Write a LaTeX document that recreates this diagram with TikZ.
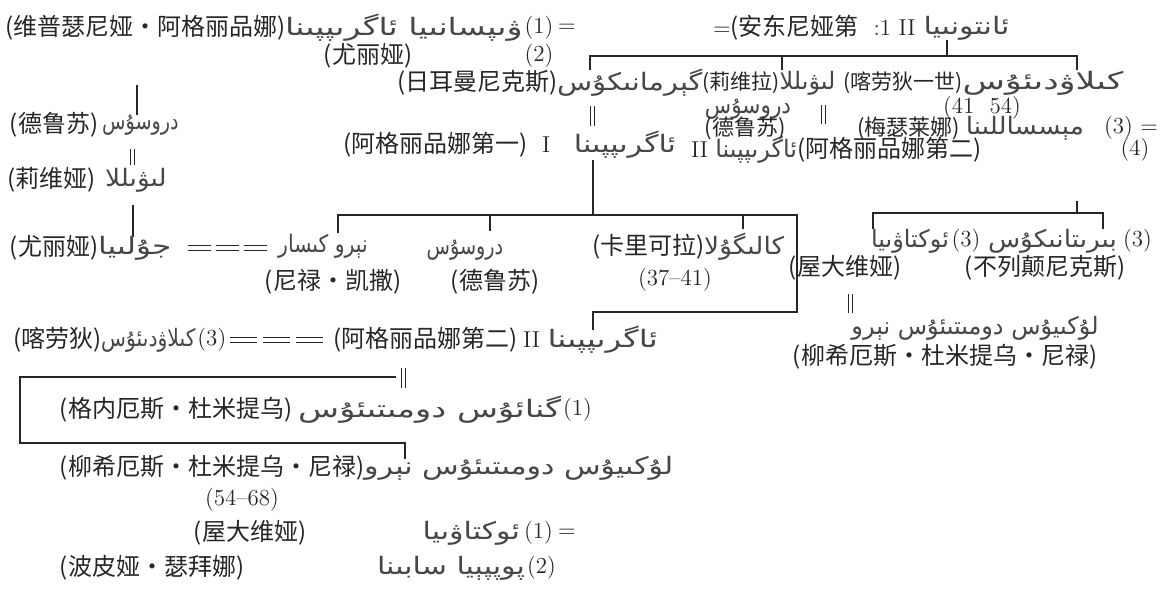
\documentclass[tikz,border=0pt]{standalone}
\usepackage{fontspec}
\usepackage{graphicx}
\newfontfamily\cjkf{Noto Sans CJK SC}
\newfontfamily\ugf[Script=Arabic]{DejaVu Sans}
\TeXXeTstate=1
\newcommand\Zh[2][12]{{\cjkf\fontsize{#1}{14}\selectfont #2}}
\newcommand\Uy[2][1.25]{{\ugf\fontsize{12}{14}\selectfont\color{black!72}\scalebox{#1}[1]{\beginR #2\endR}}}
\begin{document}
\begin{tikzpicture}[x=0.5pt,y=-0.5pt,
  every node/.style={inner sep=0pt,outer sep=0pt,font=\fontsize{11.5}{13}\selectfont,text=black!85},
  ln/.style={line width=0.8pt,black!85},
  thin2/.style={line width=0.5pt,black!85}]
\useasboundingbox[fill=white] (0,0) rectangle (1169,592);
% marriage sign (two short vertical strokes) and a double dash, from a named coordinate
\newcommand\marr[2]{\draw[thin2] ([xshift=-1pt]#1) -- ++(0,#2); \draw[thin2] ([xshift=1pt]#1) -- ++(0,#2);}
\newcommand\ddash[2]{\draw[thin2] ([yshift=-1.1pt]#1) -- ++(#2,0); \draw[thin2] ([yshift=1.1pt]#1) -- ++(#2,0);}

% ---------- row 1
\node[anchor=west] (vipZ) at (5,28) {\Zh{(维普瑟尼娅・阿格丽品娜)}};
\node[anchor=west] (vipU) at (vipZ.east) {\Uy[1.38]{ۋىپسانىيا ئاگرىپپىنا}};
\node[anchor=west] (vip1) at ([xshift=1pt]vipU.east) {(1)};
\node (vipEq) at (567,28) {=};
\node (yuli) at (368,56) {\Zh{(尤丽娅)}};
\node (two) at (vip1 |- yuli) {(2)};
\node[anchor=west] (antoZ) at (713,28) {=\Zh{(安东尼娅第}\ \ :1 II};
\node[anchor=west] (antoU) at ([xshift=4pt]antoZ.east) {\Uy{ئانتونىيا}};

% ---------- row 2
\node[anchor=west] (gerZ) at (397,83) {\Zh{(日耳曼尼克斯)}};
\node[anchor=west] (gerU) at (gerZ.east) {\Uy[1.2]{گېرمانىكۇس}};
\node[anchor=west] (livZ) at (gerU.east) {\Zh[10.5]{(莉维拉)}};
\node[anchor=west] (livU) at (livZ.east) {\Uy[1.0]{لىۋىللا}};
\node[anchor=west] (claZ) at ([xshift=4pt]livU.east) {\Zh[10.5]{(喀劳狄一世)}};
\node[anchor=west] (claU) at (claZ.east) {\Uy[1.45]{كىلاۋدىئۇس}};
\node (claY) at (982,108) {(41\ \ 54)};

\coordinate (jA) at (947,56);
\coordinate (gT) at (590,56);
\coordinate (lT) at (782,56);
\coordinate (cT) at (1077,56);
\draw[ln] (jA) -- (jA |- antoU.south);
\draw[ln] ([yshift=-7pt]gT) -- (gT) -- (cT) -- ([yshift=-7pt]cT);
\draw[ln] (lT) -- ([yshift=-7pt]lT);

% marriages under row 2
\coordinate (gM) at (592,106);
\coordinate (lM) at (823,105);
\marr{gM}{20}
\marr{lM}{19}

% ---------- middle rows
\node[anchor=west] (a1Z) at (343,145) {\Zh{(阿格丽品娜第一)}\ \ I};
\node (a1U) at (625,145) {\Uy{ئاگرىپپىنا}};
\node (drmU) at (748,109) {\Uy[0.9]{دروسۇس}};
\node (drmZ) at (745,128) {\Zh[11]{(德鲁苏)}};
\node[anchor=west] (a2rZ) at (797,150) {\Zh{(阿格丽品娜第二)}};
\node[anchor=east] (a2rU) at (a2rZ.west) {II\ \Uy[1.0]{ئاگرىپپىنا}};
\node (four) at (1135,150) {(4)};
\node[anchor=west] (mesZ) at (857,128) {\Zh[11]{(梅瑟莱娜)}};
\node[anchor=west] (mesU) at ([xshift=3pt]mesZ.east) {\Uy[1.1]{مېسساللىنا}};
\node[anchor=east] (mes3) at (1158,128) {(3) =};

% Messalina children
\coordinate (mS) at (1077,201);
\coordinate (mL) at (873,213);
\coordinate (mR) at (1103,213);
\draw[ln] (mS) -- (mS |- mL);
\draw[ln] ([yshift=-8pt]mL) -- (mL) -- (mR) -- ([yshift=-8pt]mR);

\node (octU) at (910,241) {\Uy[1.0]{ئوكتاۋىيا}};
\node (oct3) at (966,241) {(3)};
\node[anchor=west] (briU) at (988,241) {\Uy[1.1]{بىرىتانىكۇس}};
\node[anchor=west] (bri3) at ([xshift=3pt]briU.east) {(3)};
\node (octZ) at (845,268) {\Zh{(屋大维娅)}};
\node (briZ) at (1045,268) {\Zh{(不列颠尼克斯)}};
\coordinate (oM) at (850,294);
\marr{oM}{19}
\node (neroRU) at (975,328) {\Uy[1.0]{لۇكىيۇس دومىتىئۇس نېرو}};
\node (neroRZ) at (945,357) {\Zh{(柳希厄斯・杜米提乌・尼禄)}};

% ---------- left column
\coordinate (dTop) at (137,85);
\node[anchor=west] (druZ) at (10,125) {\Zh{(德鲁苏)}};
\node[anchor=west] (druU) at ([xshift=2pt]druZ.east) {\Uy[0.8]{دروسۇس}};
\draw[ln] (dTop) -- (dTop |- druU.north);
\coordinate (dM) at (132,149);
\marr{dM}{16}
\node[anchor=west] (livlZ) at (7,180) {\Zh{(莉维娅)}};
\node[anchor=west] (livlU) at ([xshift=5pt]livlZ.east) {\Uy[1.1]{لىۋىللا}};
\coordinate (lvD) at (133,205);
\draw[ln] (lvD) -- ++(0,32);
\node[anchor=west] (julZ) at (10,248) {\Zh{(尤丽娅)}};
\node[anchor=west] (julU) at (julZ.east) {\Uy[1.3]{جۇلىيا}};
\coordinate (eqA) at (188,248);
\foreach \i in {0,1,2} {\coordinate (eqAi) at ([xshift=\i*14pt]eqA); \ddash{eqAi}{23}}
\node (nerCU) at (323,246) {\Uy[0.85]{نېرو كىسار}};
\node (nerCZ) at (333,282) {\Zh{(尼禄・凯撒)}};
\node (dru2U) at (465,250) {\Uy[0.8]{دروسۇس}};
\node (dru2Z) at (495,282) {\Zh{(德鲁苏)}};
\node[anchor=west] (calZ) at (592,247) {\Zh{(卡里可拉)}};
\node[anchor=west] (calU) at (calZ.east) {\Uy[1.1]{كالىگۇلا}};
\node (calY) at (675,280) {(37--41)};

% Germanicus children
\coordinate (gcTop) at (593,160);
\coordinate (gcL) at (338,215);
\coordinate (gcR) at (797,215);
\coordinate (gcD) at (490,215);
\coordinate (gcC) at (743,215);
\coordinate (gcB) at (797,312);
\coordinate (gcA) at (593,312);
\draw[ln] (gcTop) -- (gcTop |- gcL);
\draw[ln] ([yshift=-9pt]gcL) -- (gcL) -- (gcR) -- (gcB) -- (gcA) -- ([yshift=-9pt]gcA);
\draw[ln] (gcD) -- ++(0,16);
\draw[ln] (gcC) -- ++(0,14);

% ---------- Claudius = Agrippina II
\node[anchor=west] (cl2Z) at (13,340) {\Zh{(喀劳狄)}};
\node[anchor=west] (cl2U) at (cl2Z.east) {\Uy[0.85]{كىلاۋدىئۇس}};
\node[anchor=west] (cl23) at ([xshift=1pt]cl2U.east) {(3)};
\coordinate (eqB) at (230,340);
\foreach \i in {0,1,2} {\coordinate (eqBi) at ([xshift=\i*16.5pt]eqB); \ddash{eqBi}{27}}
\node[anchor=west] (a2Z) at (333,340) {\Zh{(阿格丽品娜第二)}};
\node[anchor=west] (a2U) at ([xshift=3pt]a2Z.east) {II\ \Uy[1.35]{ئاگرىپپىنا}};

% box to Nero
\coordinate (bxA) at (396,377);
\coordinate (bxB) at (20,377);
\coordinate (bxC) at (20,443);
\coordinate (bxD) at (405,443);
\coordinate (bxE) at (405,459);
\draw[ln] (bxA) -- (bxB) -- (bxC) -- (bxD) -- (bxE);
\coordinate (aM) at (403,368);
\marr{aM}{20}

\node[anchor=west] (gnZ) at (60,410) {\Zh{(格内厄斯・杜米提乌)}};
\node[anchor=west] (gnU) at ([xshift=3pt]gnZ.east) {\Uy[1.4]{گنائۇس دومىتىئۇس}};
\node[anchor=west] (gn1) at ([xshift=1pt]gnU.east) {(1)};

\node[anchor=west] (nrZ) at (60,468) {\Zh{(柳希厄斯・杜米提乌・尼禄)}};
\node[anchor=west] (nrU) at (nrZ.east) {\Uy[1.25]{لۇكىيۇس دومىتىئۇس نېرو}};
\node (nrY) at (242,500) {(54--68)};
\node (octbZ) at (250,533) {\Zh{(屋大维娅)}};
\node[anchor=east] (octbU) at (520,533) {\Uy[1.25]{ئوكتاۋىيا}};
\node[anchor=west] (octb1) at ([xshift=2pt]octbU.east) {(1)};
\node (octbEq) at (567,533) {=};
\node[anchor=west] (popZ) at (60,568) {\Zh{(波皮娅・瑟拜娜)}};
\node[anchor=east] (popU) at (525,568) {\Uy[1.25]{پوپپېيا سابىنا}};
\node[anchor=west] (pop2) at ([xshift=1pt]popU.east) {(2)};
\end{tikzpicture}
\end{document}
